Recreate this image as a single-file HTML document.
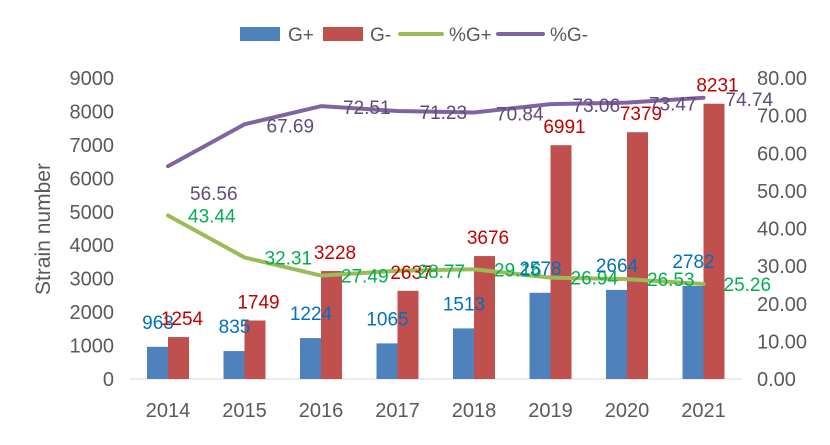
<!DOCTYPE html>
<html><head><meta charset="utf-8"><style>
body{margin:0;background:#fff}
svg text{font-family:"Liberation Sans",sans-serif}
</style></head><body>
<svg id="chart" width="830" height="440" xmlns="http://www.w3.org/2000/svg">
<g>
<rect x="240" y="27" width="40" height="14" fill="#4f81bd"/>
<text x="288" y="41" font-size="19" fill="#595959">G+</text>
<rect x="323" y="27" width="40" height="14" fill="#c0504d"/>
<text x="370" y="41" font-size="19" fill="#595959">G-</text>
<line x1="400" y1="34" x2="442" y2="34" stroke="#9bbb59" stroke-width="4" stroke-linecap="round"/>
<text x="449" y="41" font-size="19" fill="#595959">%G+</text>
<line x1="498" y1="34" x2="543" y2="34" stroke="#8064a2" stroke-width="4" stroke-linecap="round"/>
<text x="550" y="41" font-size="19" fill="#595959">%G-</text>
</g>
<text transform="translate(50,229) rotate(-90)" text-anchor="middle" font-size="21" fill="#595959">Strain number</text>
<g id="plot"></g>
</svg>
<script>
const years=['2014','2015','2016','2017','2018','2019','2020','2021'];
const gPlus=[963,835,1224,1065,1513,2578,2664,2782];
const gMinus=[1254,1749,3228,2637,3676,6991,7379,8231];
const pctGPlus=[43.44,32.31,27.49,28.77,29.16,26.94,26.53,25.26];
const pctGMinus=[56.56,67.69,72.51,71.23,70.84,73.06,73.47,74.74];
const leftTicks=[0,1000,2000,3000,4000,5000,6000,7000,8000,9000];
const rightTicks=[0,10,20,30,40,50,60,70,80];
const NS='http://www.w3.org/2000/svg';
const g=document.getElementById('plot');
const y0=379,yTop=78;
const yL=v=>y0-v/9000*(y0-yTop);
const yR=v=>y0-v/80*(y0-yTop);
const xC=i=>168+i*76.5;
function mk(t,a,txt){const e=document.createElementNS(NS,t);for(const k in a)e.setAttribute(k,a[k]);if(txt!=null)e.textContent=txt;g.appendChild(e);return e;}
leftTicks.forEach(v=>{const e=mk('text',{x:114,y:yL(v)+7,'text-anchor':'end','font-size':20,fill:'#595959'},v);

});
rightTicks.forEach(v=>{const e=mk('text',{x:757,y:yR(v)+7,'font-size':20,fill:'#595959'},v.toFixed(2));

});
const ax=mk('line',{x1:130,y1:y0,x2:742,y2:y0,stroke:'#d9d9d9','stroke-width':1});


years.forEach((yr,i)=>{const e=mk('text',{x:xC(i),y:417,'text-anchor':'middle','font-size':20,fill:'#595959'},yr);

});
years.forEach((yr,i)=>{
const b1=mk('rect',{x:xC(i)-21,y:yL(gPlus[i]),width:21,height:y0-yL(gPlus[i]),fill:'#4f81bd'});


const b2=mk('rect',{x:xC(i),y:yL(gMinus[i]),width:21,height:y0-yL(gMinus[i]),fill:'#c0504d'});


});
function line(arr,col,name){const p=mk('polyline',{points:arr.map((v,i)=>xC(i)+','+yR(v)).join(' '),fill:'none',stroke:col,'stroke-width':4,'stroke-linejoin':'round','stroke-linecap':'round'});

}
line(pctGPlus,'#9bbb59','line-pct-gplus');
line(pctGMinus,'#8064a2','line-pct-gminus');
years.forEach((yr,i)=>{
const l1=mk('text',{x:xC(i)-10,y:yL(gPlus[i])-18,'text-anchor':'middle','font-size':19,fill:'#0070c0'},gPlus[i]);


const l2=mk('text',{x:xC(i)+14,y:yL(gMinus[i])-12,'text-anchor':'middle','font-size':19,fill:'#c00000'},gMinus[i]);


const l3=mk('text',{x:xC(i)+20,y:yR(pctGPlus[i])+7,'font-size':19,fill:'#00b050'},pctGPlus[i].toFixed(2));


const l4=mk('text',{x:xC(i)+22,y:yR(pctGMinus[i])+(i===0?34:8),'font-size':19,fill:'#604a7b'},pctGMinus[i].toFixed(2));


});
</script>
</body></html>
